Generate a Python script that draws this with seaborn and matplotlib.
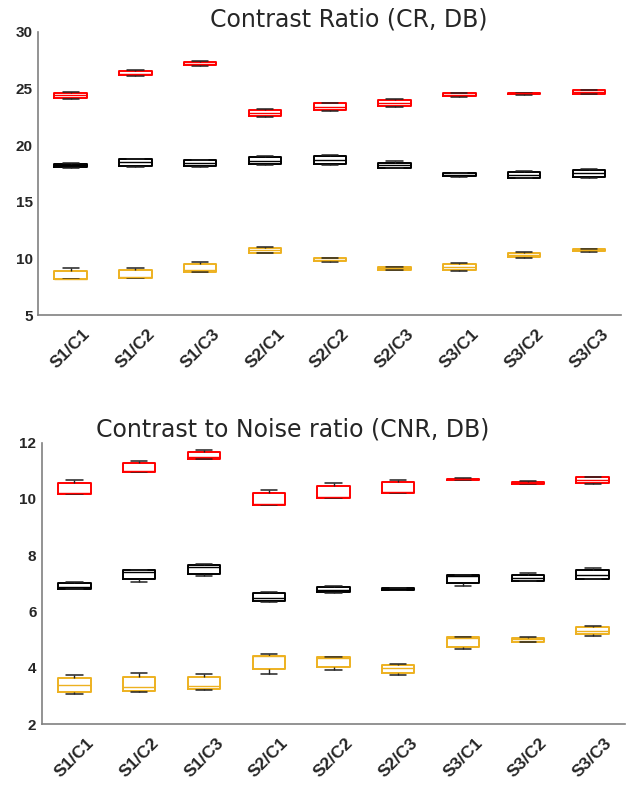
import matplotlib

matplotlib.use('Agg')
import matplotlib.pyplot as plt
import numpy as np
import pandas as pd
import seaborn as sns

categories = ['S1/C1', 'S1/C2', 'S1/C3', 'S2/C1', 'S2/C2', 'S2/C3', 'S3/C1', 'S3/C2', 'S3/C3']

# five-number summaries per box: [low whisker, q1, median, q3, high whisker]
cr_red = [
    [24.10, 24.18, 24.40, 24.62, 24.70],
    [26.10, 26.15, 26.30, 26.53, 26.60],
    [27.00, 27.03, 27.15, 27.35, 27.40],
    [22.50, 22.59, 22.85, 23.09, 23.20],
    [23.00, 23.06, 23.38, 23.68, 23.75],
    [23.40, 23.44, 23.70, 23.97, 24.05],
    [24.25, 24.29, 24.45, 24.62, 24.62],
    [24.45, 24.47, 24.55, 24.62, 24.62],
    [24.50, 24.53, 24.70, 24.88, 24.90],
]
cr_black = [
    [17.94, 18.03, 18.20, 18.35, 18.44],
    [18.10, 18.18, 18.50, 18.74, 18.80],
    [18.03, 18.15, 18.40, 18.68, 18.70],
    [18.25, 18.29, 18.60, 18.91, 19.03],
    [18.25, 18.29, 18.68, 19.03, 19.12],
    [17.98, 18.00, 18.20, 18.44, 18.56],
    [17.22, 17.26, 17.40, 17.53, 17.56],
    [17.05, 17.09, 17.35, 17.59, 17.68],
    [17.12, 17.18, 17.50, 17.82, 17.88],
]
cr_orange = [
    [8.15, 8.15, 8.20, 8.91, 9.12],
    [8.29, 8.29, 8.40, 8.97, 9.15],
    [8.80, 8.82, 9.00, 9.47, 9.65],
    [10.45, 10.50, 10.75, 10.91, 11.00],
    [9.72, 9.74, 9.90, 10.03, 10.05],
    [8.98, 9.00, 9.12, 9.26, 9.28],
    [8.91, 9.00, 9.25, 9.50, 9.56],
    [10.07, 10.09, 10.30, 10.47, 10.56],
    [10.60, 10.62, 10.72, 10.85, 10.87],
]

cnr_red = [
    [10.18, 10.18, 10.22, 10.58, 10.67],
    [10.96, 10.96, 11.00, 11.28, 11.36],
    [11.41, 11.41, 11.50, 11.67, 11.74],
    [9.78, 9.80, 9.82, 10.22, 10.33],
    [10.02, 10.04, 10.06, 10.45, 10.55],
    [10.20, 10.20, 10.24, 10.59, 10.67],
    [10.66, 10.67, 10.70, 10.72, 10.73],
    [10.53, 10.54, 10.57, 10.61, 10.62],
    [10.53, 10.58, 10.67, 10.76, 10.78],
]
cnr_black = [
    [6.80, 6.81, 6.88, 7.00, 7.06],
    [7.06, 7.14, 7.40, 7.47, 7.48],
    [7.25, 7.32, 7.58, 7.65, 7.68],
    [6.35, 6.38, 6.49, 6.65, 6.68],
    [6.67, 6.69, 6.78, 6.87, 6.90],
    [6.77, 6.78, 6.80, 6.82, 6.83],
    [6.92, 7.01, 7.28, 7.31, 7.31],
    [7.08, 7.08, 7.20, 7.31, 7.36],
    [7.14, 7.14, 7.30, 7.46, 7.55],
]
cnr_orange = [
    [3.08, 3.14, 3.40, 3.66, 3.75],
    [3.14, 3.18, 3.33, 3.69, 3.81],
    [3.22, 3.25, 3.36, 3.68, 3.78],
    [3.80, 3.95, 4.41, 4.44, 4.48],
    [3.94, 4.02, 4.36, 4.39, 4.40],
    [3.76, 3.82, 3.98, 4.11, 4.14],
    [4.67, 4.75, 5.05, 5.08, 5.09],
    [4.92, 4.93, 5.02, 5.07, 5.10],
    [5.15, 5.19, 5.31, 5.44, 5.48],
]

series_colors = {'red': '#FF0000', 'black': '#000000', 'orange': '#EDB120'}


def to_long(series):
    rows = []
    for name, boxes in series.items():
        for cat, vals in zip(categories, boxes):
            for v in vals:
                rows.append({'series': name, 'cat': cat, 'value': v})
    return pd.DataFrame(rows)


def draw_panel(ax, df, title, ylim, yticks, title_x):
    for name, color in series_colors.items():
        sub = df[df['series'] == name]
        sns.boxplot(data=sub, x='cat', y='value', order=categories, ax=ax,
                    fill=False, color=color, width=0.5, whis=(0, 100),
                    showfliers=False, linewidth=1.4,
                    medianprops=dict(linewidth=1.0),
                    whiskerprops=dict(color='#222222', linewidth=1.0),
                    capprops=dict(color='#222222', linewidth=1.1))
    ax.set_xlim(-0.5, 8.5)
    ax.set_ylim(*ylim)
    ax.set_yticks(yticks)
    ax.set_xlabel('')
    ax.set_ylabel('')
    ax.set_title(title, fontsize=17, x=title_x, pad=4, family='DejaVu Sans')
    ax.set_xticks(range(len(categories)))
    ax.set_xticklabels(categories, rotation=45, ha='center', fontweight='bold',
                       fontsize=12.5, family='Liberation Sans')
    for lab in ax.get_yticklabels():
        lab.set_fontweight('bold')
        lab.set_fontsize(11)
        lab.set_family('Liberation Sans')
    sns.despine(ax=ax)
    for sp in ['left', 'bottom']:
        ax.spines[sp].set_color('#808080')
        ax.spines[sp].set_linewidth(1.2)
    ax.tick_params(direction='in', length=4, color='#808080', labelcolor='#262626')
    ax.tick_params(axis='x', pad=8)
    ax.tick_params(axis='y', pad=4)


sns.set_style('white')
fig = plt.figure(figsize=(6.33, 7.87), dpi=100)
ax1 = fig.add_axes([0.0605, 0.5997, 0.921, 0.360])
ax2 = fig.add_axes([0.0664, 0.0797, 0.921, 0.358])

df_cr = to_long({'red': cr_red, 'black': cr_black, 'orange': cr_orange})
df_cnr = to_long({'red': cnr_red, 'black': cnr_black, 'orange': cnr_orange})

draw_panel(ax1, df_cr, 'Contrast Ratio (CR, DB)', (5, 30), np.arange(5, 31, 5), 0.533)
draw_panel(ax2, df_cnr, 'Contrast to Noise ratio (CNR, DB)', (2, 12), np.arange(2, 13, 2), 0.43)

fig.savefig('out.png', dpi=100)
